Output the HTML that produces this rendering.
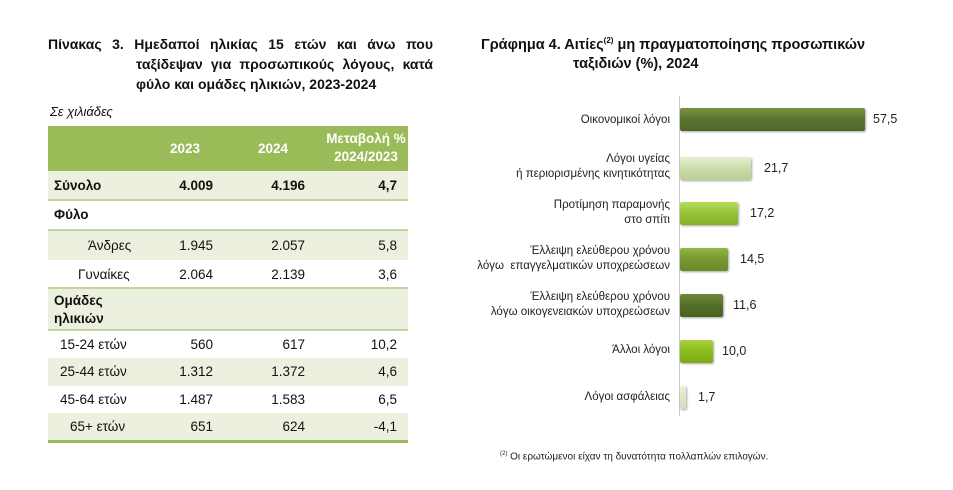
<!DOCTYPE html>
<html><head><meta charset="utf-8"><style>
body{margin:0;width:953px;height:490px;background:#fff;font-family:"Liberation Sans","DejaVu Sans",sans-serif;position:relative;overflow:hidden;color:#111}
.a{position:absolute;white-space:nowrap}
.t{font-weight:bold;font-size:14px}
.j{text-align:justify;text-align-last:justify}
.row{position:absolute;left:48px;width:360px;font-size:13.5px}
.row span{position:absolute}
.c1{right:195px}.c2{right:103px}.c3{right:11px}
.lbl{font-size:11.5px;color:#222;text-align:right;position:absolute;right:283px;line-height:15px}
.bar{position:absolute;left:680px;height:23px;border-radius:2px;box-shadow:1px 1px 2px rgba(0,0,0,.35)}
.v{position:absolute;font-size:12.5px;color:#222}
</style></head><body>
<div class="a t j" style="left:48px;top:36px;width:385px">Πίνακας 3. Ημεδαποί ηλικίας 15 ετών και άνω που</div>
<div class="a t j" style="left:136px;top:56px;width:297px">ταξίδεψαν για προσωπικούς λόγους, κατά</div>
<div class="a t" style="left:136px;top:76px">φύλο και ομάδες ηλικιών, 2023-2024</div>
<div class="a" style="left:50px;top:104px;font-style:italic;font-size:13px">Σε χιλιάδες</div>

<div class="row" style="top:126px;height:45px;background:#9bbb59;color:#fff;font-weight:bold">
<span style="left:122px;top:15px">2023</span><span style="left:210px;top:15px">2024</span>
<span style="left:274px;top:4px;text-align:center;line-height:18px;width:88px">Μεταβολή %<br>2024/2023</span></div>
<div class="row" style="top:171px;height:28px;background:#ebf1de;border-bottom:2px solid #c3d69b;font-weight:bold"><span style="left:6px;top:7px">Σύνολο</span><span class="c1" style="top:7px">4.009</span><span class="c2" style="top:7px">4.196</span><span class="c3" style="top:7px">4,7</span></div>
<div class="row" style="top:201px;height:28px;border-bottom:2px solid #c3d69b;font-weight:bold"><span style="left:6px;top:6px">Φύλο</span></div>
<div class="row" style="top:231px;height:29px;background:#ebf1de"><span style="left:40px;top:7px">Άνδρες</span><span class="c1" style="top:7px">1.945</span><span class="c2" style="top:7px">2.057</span><span class="c3" style="top:7px">5,8</span></div>
<div class="row" style="top:260px;height:27px;border-bottom:2px solid #c3d69b"><span style="left:30px;top:7px">Γυναίκες</span><span class="c1" style="top:7px">2.064</span><span class="c2" style="top:7px">2.139</span><span class="c3" style="top:7px">3,6</span></div>
<div class="row" style="top:289px;height:40px;background:#ebf1de;border-bottom:2px solid #c3d69b;font-weight:bold"><span style="left:6px;top:3px;line-height:18px">Ομάδες<br>ηλικιών</span></div>
<div class="row" style="top:331px;height:27px"><span style="left:12px;top:6px">15-24 ετών</span><span class="c1" style="top:6px">560</span><span class="c2" style="top:6px">617</span><span class="c3" style="top:6px">10,2</span></div>
<div class="row" style="top:358px;height:28px;background:#ebf1de"><span style="left:12px;top:6px">25-44 ετών</span><span class="c1" style="top:6px">1.312</span><span class="c2" style="top:6px">1.372</span><span class="c3" style="top:6px">4,6</span></div>
<div class="row" style="top:386px;height:27px"><span style="left:12px;top:6px">45-64 ετών</span><span class="c1" style="top:6px">1.487</span><span class="c2" style="top:6px">1.583</span><span class="c3" style="top:6px">6,5</span></div>
<div class="row" style="top:413px;height:27px;background:#ebf1de;border-bottom:3px solid #9bbb59"><span style="left:22px;top:6px">65+ ετών</span><span class="c1" style="top:6px">651</span><span class="c2" style="top:6px">624</span><span class="c3" style="top:6px">-4,1</span></div>

<div class="a t" style="left:481px;top:36px;font-size:14.5px">Γράφημα 4. Αιτίες<sup style="font-size:8px">(2)</sup> μη πραγματοποίησης προσωπικών</div>
<div class="a t" style="left:573px;top:56px;font-size:14.5px">ταξιδιών (%), 2024</div>
<div class="a" style="left:679px;top:96px;width:1px;height:320px;background:#ccc"></div>

<div class="lbl" style="top:113px">Οικονομικοί λόγοι</div>
<div class="bar" style="top:108px;width:185px;background:linear-gradient(#7a9240,#5a7330 50%,#4f662a)"></div><div class="v" style="left:873px;top:112px">57,5</div>
<div class="lbl" style="top:152px">Λόγοι υγείας<br>ή περιορισμένης κινητικότητας</div>
<div class="bar" style="top:157px;width:71px;background:linear-gradient(#e6f0d2,#c9dcaa 50%,#b8cf95)"></div><div class="v" style="left:764px;top:161px">21,7</div>
<div class="lbl" style="top:198px">Προτίμηση παραμονής<br>στο σπίτι</div>
<div class="bar" style="top:202px;width:58px;background:linear-gradient(#b7dc5c,#96c236 50%,#86b02c)"></div><div class="v" style="left:750px;top:206px">17,2</div>
<div class="lbl" style="top:244px">Έλλειψη ελεύθερου χρόνου<br>λόγω &nbsp;επαγγελματικών υποχρεώσεων</div>
<div class="bar" style="top:248px;width:48px;background:linear-gradient(#95b449,#77982f 50%,#6a8a28)"></div><div class="v" style="left:740px;top:252px">14,5</div>
<div class="lbl" style="top:290px">Έλλειψη ελεύθερου χρόνου<br>λόγω οικογενειακών υποχρεώσεων</div>
<div class="bar" style="top:294px;width:43px;background:linear-gradient(#6f8a3a,#546e28 50%,#4a6222)"></div><div class="v" style="left:733px;top:298px">11,6</div>
<div class="lbl" style="top:343px">Άλλοι λόγοι</div>
<div class="bar" style="top:340px;width:33px;background:linear-gradient(#a8d040,#8cbc1c 50%,#7ea818)"></div><div class="v" style="left:722px;top:344px">10,0</div>
<div class="lbl" style="top:390px">Λόγοι ασφάλειας</div>
<div class="bar" style="top:386px;width:6px;background:linear-gradient(#e8f0d8,#d0e0b8)"></div><div class="v" style="left:698px;top:390px">1,7</div>

<div class="a" style="left:500px;top:451px;font-size:10px;color:#222"><sup style="font-size:6px">(2)</sup> Οι ερωτώμενοι είχαν τη δυνατότητα πολλαπλών επιλογών.</div>
</body></html>
